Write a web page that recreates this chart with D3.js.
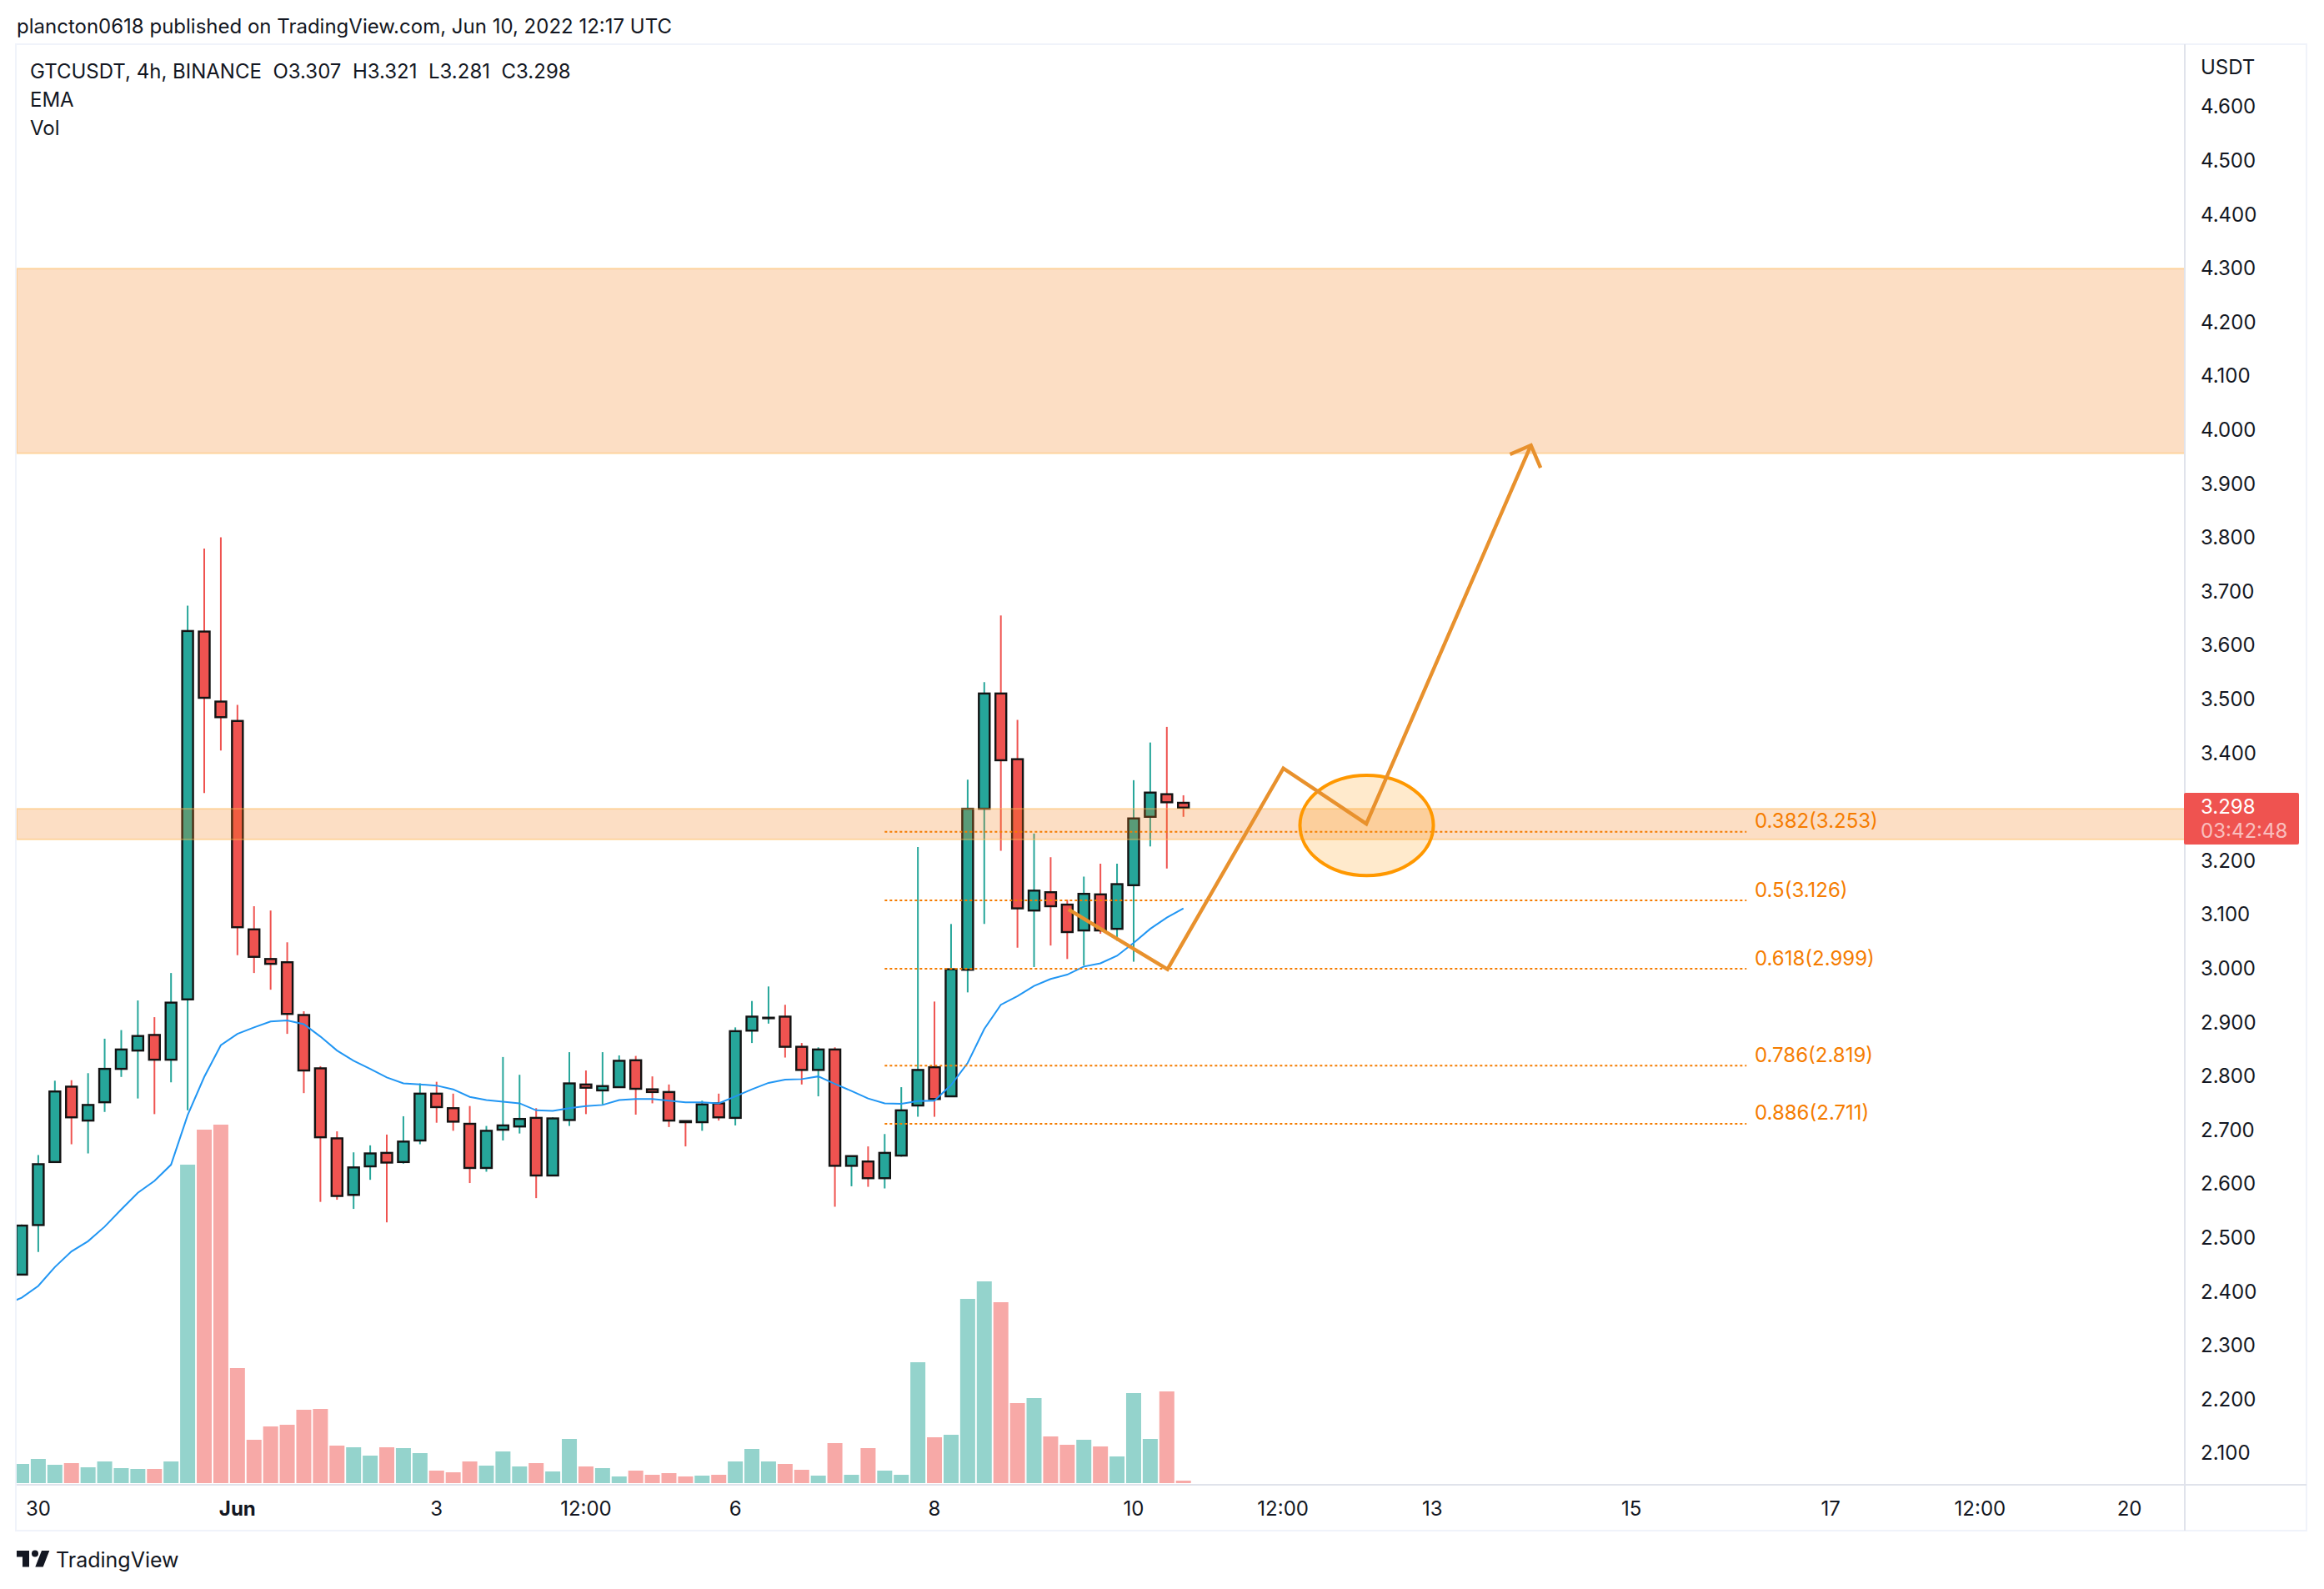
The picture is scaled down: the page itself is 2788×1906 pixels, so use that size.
<!DOCTYPE html>
<html><head><meta charset="utf-8">
<script src="https://cdnjs.cloudflare.com/ajax/libs/d3/7.8.5/d3.min.js"></script>
<style>html,body{margin:0;padding:0;background:#fff}svg{display:block}text{font-family:Inter,"Noto Sans",sans-serif;fill:#131722}</style>
</head><body><svg id="c" width="2788" height="1906"></svg>
<script>
// Data
const opens=[2.431,2.523,2.640,2.780,2.717,2.751,2.813,2.847,2.876,2.830,2.942,3.625,3.495,3.459,3.072,3.017,3.011,2.913,2.814,2.684,2.579,2.632,2.657,2.640,2.680,2.767,2.740,2.711,2.629,2.700,2.706,2.722,2.615,2.718,2.784,2.773,2.779,2.829,2.775,2.770,2.716,2.714,2.749,2.722,2.884,2.907,2.910,2.854,2.811,2.849,2.633,2.641,2.610,2.652,2.745,2.816,2.762,2.997,3.296,3.510,3.388,3.107,3.141,3.118,3.070,3.137,3.073,3.154,3.281,3.323,3.307];
const highs=[2.524,2.653,2.791,2.792,2.805,2.869,2.885,2.940,2.909,2.991,3.673,3.779,3.800,3.489,3.115,3.107,3.048,2.920,2.818,2.697,2.658,2.671,2.691,2.725,2.786,2.789,2.767,2.744,2.707,2.835,2.802,2.740,2.723,2.844,2.810,2.844,2.838,2.837,2.799,2.784,2.716,2.754,2.767,2.890,2.939,2.966,2.932,2.861,2.853,2.853,2.652,2.669,2.692,2.779,3.225,2.938,3.082,3.350,3.531,3.655,3.461,3.250,3.206,3.127,3.170,3.194,3.194,3.349,3.419,3.448,3.321];
const lows=[2.431,2.473,2.640,2.673,2.656,2.733,2.798,2.758,2.729,2.788,2.736,3.325,3.404,3.024,2.991,2.960,2.878,2.768,2.566,2.570,2.553,2.607,2.528,2.637,2.673,2.713,2.698,2.601,2.622,2.680,2.693,2.573,2.614,2.707,2.729,2.747,2.779,2.728,2.749,2.705,2.669,2.698,2.717,2.708,2.861,2.897,2.834,2.784,2.762,2.557,2.595,2.594,2.591,2.650,2.724,2.724,2.762,2.955,3.082,3.218,3.038,3.002,3.042,3.017,3.005,3.064,3.051,3.012,3.226,3.185,3.281];
const closes=[2.522,2.636,2.771,2.723,2.746,2.813,2.849,2.874,2.830,2.936,3.626,3.502,3.466,3.076,3.021,3.008,2.915,2.810,2.686,2.577,2.630,2.656,2.639,2.678,2.767,2.742,2.715,2.629,2.698,2.708,2.720,2.615,2.721,2.786,2.778,2.781,2.828,2.776,2.770,2.717,2.714,2.747,2.723,2.883,2.910,2.908,2.854,2.811,2.849,2.633,2.651,2.610,2.657,2.736,2.811,2.757,2.998,3.296,3.510,3.386,3.111,3.144,3.115,3.067,3.138,3.070,3.156,3.278,3.326,3.308,3.298];
const volumes=[23,29,22,24,19,26,18,17,17,26,382,424,430,138,52,68,70,88,89,45,43,33,43,42,36,15,13,26,21,38,20,24,14,53,20,18,8,15,10,12,8,9,10,26,41,26,23,16,9,48,10,42,15,10,145,55,58,221,242,217,96,102,56,46,52,44,32,108,53,110,3];
const volUp=[1,1,1,0,1,1,1,1,0,1,1,0,0,0,0,0,0,0,0,0,1,1,0,1,1,0,0,0,1,1,1,0,1,1,0,1,1,0,0,0,0,1,0,1,1,1,0,0,1,0,1,0,1,1,1,0,1,1,1,0,0,1,0,0,1,0,1,1,1,0,0];
const ema=[2.375,2.388,2.410,2.445,2.474,2.493,2.520,2.552,2.583,2.605,2.635,2.727,2.798,2.857,2.878,2.890,2.901,2.903,2.896,2.873,2.847,2.828,2.813,2.797,2.786,2.784,2.782,2.775,2.761,2.755,2.752,2.749,2.736,2.735,2.740,2.744,2.746,2.755,2.757,2.757,2.754,2.751,2.751,2.749,2.762,2.775,2.787,2.793,2.794,2.799,2.785,2.772,2.758,2.749,2.748,2.753,2.754,2.783,2.824,2.887,2.932,2.948,2.967,2.980,2.988,3.003,3.009,3.023,3.047,3.073,3.094,3.111];
const priceTicks=[4.6,4.5,4.4,4.3,4.2,4.1,4.0,3.9,3.8,3.7,3.6,3.5,3.4,3.2,3.1,3.0,2.9,2.8,2.7,2.6,2.5,2.4,2.3,2.2,2.1];
const timeTickBars=[1,13,25,34,43,55,67,76,85,97,109,118,127];
const timeTickLabels=["30","Jun","3","12:00","6","8","10","12:00","13","15","17","12:00","20"];
const fibLevels=[0.382,0.5,0.618,0.786,0.886];
const fibPrices=[3.253,3.126,2.999,2.819,2.711];
const zones=[[3.956,4.299],[3.239,3.296]];
const pathBars=[63.08,69.04,76.02,81.02,90.94];
const pathPrices=[3.109,2.998,3.371,3.268,3.971];
const arrowBars=[89.68,90.94,91.52];
const arrowPrices=[3.954,3.971,3.929];

const svg=d3.select("#c");
const L=20,R=2621,RB=2767,T=53,VB=1781,B=1836;
const x=d3.scaleLinear().domain([0,1]).range([26,45.91]);
const y=d3.scaleLinear().domain([2.1,4.6]).range([1742.7,127.7]);
const yv=d3.scaleLinear().domain([0,430]).range([1779,1349]);
const UP="#26a69a",DN="#ef5350";
const idx=d3.range(closes.length);

svg.append("defs").append("clipPath").attr("id","plot").append("rect").attr("x",L).attr("y",T).attr("width",R-L).attr("height",VB-T);
// frame
const gridC="#e0e3eb",outer="#f0f3fa";
svg.append("rect").attr("x",19).attr("y",53).attr("width",RB-19).attr("height",B-53).attr("fill","none").attr("stroke",outer).attr("stroke-width",2);
const plot=svg.append("g").attr("clip-path","url(#plot)");

// volume
plot.append("g").selectAll("rect").data(idx).join("rect")
 .attr("x",i=>x(i)-9).attr("width",18).attr("y",i=>yv(volumes[i])).attr("height",i=>yv(0)-yv(volumes[i]))
 .attr("fill",i=>volUp[i]?"#94d3cc":"#f7a9a7");
// wicks
plot.append("g").selectAll("line").data(idx).join("line")
 .attr("x1",i=>x(i)).attr("x2",i=>x(i)).attr("y1",i=>y(highs[i])).attr("y2",i=>y(lows[i]))
 .attr("stroke",i=>closes[i]>=opens[i]?UP:DN).attr("stroke-width",2);
// bodies
plot.append("g").selectAll("rect").data(idx).join("rect")
 .attr("x",i=>x(i)-6.5).attr("width",13)
 .attr("y",i=>y(Math.max(opens[i],closes[i])))
 .attr("height",i=>Math.max(0.5,Math.abs(y(opens[i])-y(closes[i]))))
 .attr("fill",i=>closes[i]>=opens[i]?UP:DN).attr("stroke","#131313").attr("stroke-width",2.4);
// EMA (first reading lies one bar left of the visible area)
plot.append("path").datum(ema).attr("fill","none").attr("stroke","#2196f3").attr("stroke-width",2)
 .attr("d",d3.line().x((d,i)=>x(i-1)).y(d=>y(d)));
// zones
plot.append("g").selectAll("rect").data(zones).join("rect")
 .attr("x",L).attr("width",R-L).attr("y",d=>y(d[1])).attr("height",d=>y(d[0])-y(d[1]))
 .attr("fill","rgba(242,124,20,0.25)").attr("stroke","rgba(255,183,77,0.4)").attr("stroke-width",2);
// fib
plot.append("g").selectAll("line").data(fibPrices).join("line")
 .attr("x1",x(52)).attr("x2",x(103.93)).attr("y1",d=>y(d)).attr("y2",d=>y(d))
 .attr("stroke","#f57c00").attr("stroke-width",2).attr("stroke-dasharray","3 3");
svg.append("g").selectAll("text").data(fibPrices).join("text")
 .attr("x",2105).attr("y",d=>y(d)-(d>3.2||d<2.72?14:13)).attr("dy","0.36em")
 .attr("font-size",24).style("fill","#f57c00").text((d,i)=>`${fibLevels[i]}(${d.toFixed(3)})`);
// ellipse
plot.append("ellipse").attr("cx",x(81.04)).attr("cy",y(3.265)).attr("rx",x(4.02)-x(0)).attr("ry",y(3.265)-y(3.358))
 .attr("fill","rgba(255,152,0,0.2)").attr("stroke","#ff9800").attr("stroke-width",4);
// path
const lineXY=d3.line().x(d=>x(d[0])).y(d=>y(d[1]));
plot.append("path").datum(d3.zip(pathBars,pathPrices)).attr("fill","none").attr("stroke","#e8912d").attr("stroke-width",4.4).attr("d",lineXY);
plot.append("path").datum(d3.zip(arrowBars,arrowPrices)).attr("fill","none").attr("stroke","#e8912d").attr("stroke-width",4.4).attr("d",lineXY);

// axis lines
svg.append("line").attr("x1",L).attr("x2",RB).attr("y1",1781).attr("y2",1781).attr("stroke",gridC).attr("stroke-width",2);
svg.append("line").attr("x1",R).attr("x2",R).attr("y1",T).attr("y2",B).attr("stroke",gridC).attr("stroke-width",2);

// price axis
svg.append("g").selectAll("text").data(priceTicks).join("text")
 .attr("x",2640).attr("y",d=>y(d)).attr("dy","0.36em").attr("font-size",24).text(d=>d.toFixed(3));
svg.append("text").attr("x",2640).attr("y",80).attr("font-size",24).attr("dy","0.36em").text("USDT");
// last price tag
svg.append("rect").attr("x",2620).attr("y",951).attr("width",138).attr("height",62).attr("rx",2).attr("fill","#ef5350");
svg.append("text").attr("x",2640).attr("y",y(closes[70])-1).attr("dy","0.36em").attr("font-size",24).style("fill","#fff").text("3.298");
svg.append("text").attr("x",2640).attr("y",996).attr("dy","0.36em").attr("font-size",24).style("fill","#fff").style("fill-opacity",.65).text("03:42:48");
// time axis
svg.append("g").selectAll("text").data(timeTickBars).join("text")
 .attr("x",d=>x(d)).attr("y",1809).attr("dy","0.36em").attr("text-anchor","middle").attr("font-size",24)
 .attr("font-weight",(d,i)=>timeTickLabels[i]==="Jun"?700:400).text((d,i)=>timeTickLabels[i]);
// header
svg.append("text").attr("x",20).attr("y",31).attr("font-size",24).attr("dy","0.36em").text("plancton0618 published on TradingView.com, Jun 10, 2022 12:17 UTC");
svg.append("text").attr("x",36).attr("y",85).attr("font-size",24).attr("dy","0.36em").attr("xml:space","preserve").text("GTCUSDT, 4h, BINANCE  O3.307  H3.321  L3.281  C3.298");
svg.append("text").attr("x",36).attr("y",119).attr("font-size",24).attr("dy","0.36em").text("EMA");
svg.append("text").attr("x",36).attr("y",153).attr("font-size",24).attr("dy","0.36em").text("Vol");
// logo
svg.append("path").attr("fill","#131722").attr("d","M20 1860H35V1879.5H27V1867.5H20Z M38 1863.5a4 4 0 1 0 8 0a4 4 0 1 0 -8 0Z M50 1860H59.3L51.7 1879.5H42.3Z");
svg.append("text").attr("x",67).attr("y",1871).attr("font-size",25).attr("dy","0.36em").text("TradingView");
</script></body></html>
